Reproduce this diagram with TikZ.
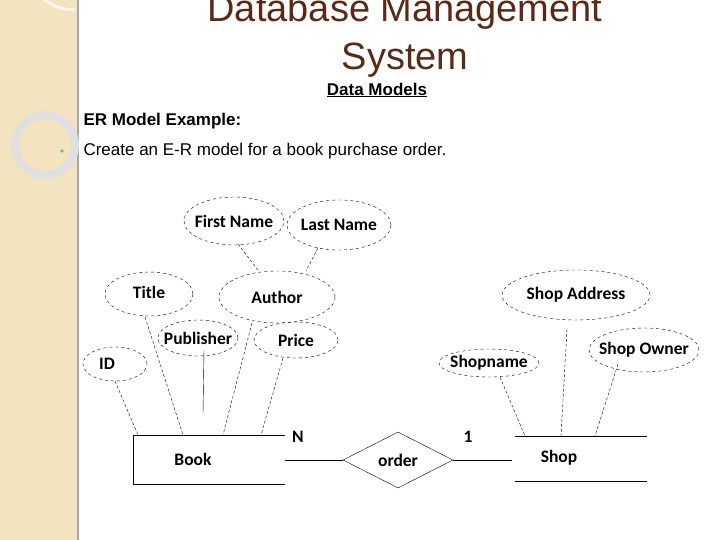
\documentclass[tikz,border=0pt]{standalone}
\usepackage{fontspec}
\setmainfont{Liberation Sans}
\newfontfamily\calib{Carlito}
\usetikzlibrary{shapes.geometric}
\definecolor{strip}{HTML}{F3E3BE}
\definecolor{titlebrown}{HTML}{5B2A17}
\tikzset{
  lbl/.style={font=\calib\bfseries\fontsize{17.5}{20}\selectfont},
  attr/.style={ellipse,draw,dashed,minimum width=#1,lbl,inner xsep=-6pt,inner ysep=0pt},
  link/.style={dashed,dash pattern=on 3pt off 2pt},
}
\begin{document}
\begin{tikzpicture}[x=1pt,y=-1pt]
  \useasboundingbox (0,0) rectangle (720,540);
  % side strip
  \fill[strip] (0,0) rectangle (78,540);
  \draw[black!35,line width=1.5pt] (78,0) -- (78,540);
  \draw[white!70!strip,line width=3pt] (75,10) arc (90:250:55 and 60);
  \draw[black!12,line width=8pt] (45,145) circle (30);
  \node[circle,draw=teal,inner sep=1pt] (bul) at (62,151) {};
  % headings
  \node[font=\fontsize{38}{48}\selectfont,text=titlebrown,align=center] (ttl) at (405,36) {Database Management\\System};
  \node[font=\bfseries\fontsize{17}{20}\selectfont] (sub) at (377,90) {\underline{Data Models}};
  \node[font=\bfseries\fontsize{17}{20}\selectfont,anchor=west] (ex) at (80,121) {ER Model Example:};
  \node[font=\fontsize{17}{20}\selectfont,anchor=west] (txt) at (80,151) {Create an E-R model for a book purchase order.};
  % attributes
  \node[attr=100pt,minimum height=48pt] (fname) at (234,221) {First Name};
  \node[attr=104pt,minimum height=50pt] (lname) at (339,225) {Last Name};
  \node[attr=88pt,minimum height=44pt] (title) at (149,294) {\raisebox{4pt}{Title}};
  \node[attr=116pt,minimum height=52pt] (author) at (277,297) {\raisebox{-6pt}{Author}};
  \node[attr=80pt,minimum height=36pt] (pub) at (198,338) {Publisher};
  \node[attr=84pt,minimum height=36pt] (price) at (296,340) {Price};
  \node[attr=64pt,minimum height=34pt] (id) at (115,364) {\hspace*{-16pt}ID};
  \node[attr=148pt,minimum height=50pt] (saddr) at (576,295) {Shop Address};
  \node[attr=100pt,minimum height=28pt] (sname) at (489,363) {Shopname};
  \node[attr=104pt,minimum height=44pt] (sowner) at (644,350) {Shop Owner};
  % entities
  \draw (285,435) -- (133,435) -- (133,484) -- (285,484);
  \node[lbl] (book) at (193,459) {Book};
  \draw (515,436) -- (647,436) (515,481) -- (647,481);
  \node[lbl] (shop) at (559,458) {Shop};
  \node[diamond,draw,aspect=2,minimum width=110pt,minimum height=56pt,lbl,inner sep=0pt] (order) at (398,460) {\raisebox{-2pt}{order}};
  \node[lbl] (n) at (298,437) {N};
  \node[lbl] (one) at (468,437) {1};
  \draw (285,460) -- (order.west);
  \draw (order.east) -- (512,460);
  % attribute links
  \draw[link] (238,244) -- (258,270);
  \draw[link] (318,248) -- (306,271);
  \draw[link] (145,317) -- (183,435);
  \draw (204,350) -- (203,413);
  \draw[link] (252,323) -- (223,435);
  \draw[link] (283,358) -- (261,435);
  \draw[link] (115,381) -- (138,435);
  \draw[link] (500,377) -- (525,436);
  \draw[link] (567,329) -- (561,436);
  \draw[link] (618,364) -- (595,436);
\end{tikzpicture}
\end{document}
